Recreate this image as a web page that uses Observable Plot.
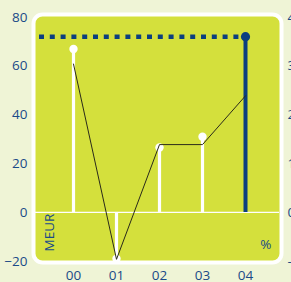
<!DOCTYPE html>
<html><head><meta charset="utf-8">
<script src="https://cdn.jsdelivr.net/npm/d3@7"></script>
<script src="https://cdn.jsdelivr.net/npm/@observablehq/plot@0.6"></script>
<style>
html,body{margin:0;padding:0;background:#eff4d6;}
svg{display:block;}
</style></head><body>
<div id="chart"></div>
<script>
const years = ["00", "01", "02", "03", "04"];
const meur = [67, -19, 26.6, 31, 72];          // lollipops (left axis, MEUR)
const pct = [30.4, -9.6, 13.9, 13.9, 23.9];     // line (right axis, %)
const leftTicks = [-20, 0, 20, 40, 60, 80];
const rightTicks = [-10, 0, 10, 20, 30, 40];
const target = 72;

const navy = "#0b3f7f";
const txt = "#1a4a88";
const panel = "#d4e03c";

const bars = years.map((y, i) => ({year: y, v: meur[i], last: i === years.length - 1}));
const line = years.map((y, i) => ({year: y, p: pct[i]}));

const chart = Plot.plot({
  width: 291,
  height: 282,
  marginLeft: 33,
  marginRight: 10,
  marginTop: 14,
  marginBottom: 20,
  style: {background: "#eff4d6", fontFamily: "'Open Sans', sans-serif", fontSize: "13px", color: txt},
  x: {type: "point", domain: years, padding: 0, insetLeft: 39, insetRight: 36, label: null},
  y: {domain: [-20.5, 81.1], label: null},
  marks: [
    Plot.frame({fill: panel, stroke: "white", strokeWidth: 4, rx: 9}),
    Plot.axisY({ticks: leftTicks, tickSize: 0, tickPadding: 6, fill: txt, fontSize: 13.5}),
    Plot.axisY({anchor: "right", ticks: rightTicks.map(d => d * 2), tickFormat: d => d / 2, tickSize: 0, tickPadding: 6, fill: txt, fontSize: 13.5, textAnchor: "start"}),
    Plot.axisX({tickSize: 0, tickPadding: 8, fill: txt, fontSize: 13.5}),
    Plot.ruleY([0], {stroke: "white", strokeWidth: 1.2, insetLeft: 2, insetRight: 2}),
    Plot.ruleY([target], {stroke: navy, strokeWidth: 4.5, strokeDasharray: "5 5.8", insetLeft: 6, insetRight: 38}),
    Plot.ruleX(bars.filter(d => !d.last), {x: "year", y1: 0, y2: "v", stroke: "white", strokeWidth: 3.2}),
    Plot.ruleX(bars.filter(d => d.last), {x: "year", y1: 0, y2: "v", stroke: navy, strokeWidth: 4}),
    Plot.dot(bars.filter(d => !d.last), {x: "year", y: "v", r: 4.2, fill: "white"}),
    Plot.dot(bars.filter(d => d.last), {x: "year", y: "v", r: 4.6, fill: navy}),
    Plot.line(line, {x: "year", y: d => d.p * 2, stroke: "#2a2a1a", strokeWidth: 1}),
    Plot.text(["MEUR"], {frameAnchor: "bottom-left", rotate: -90, dx: 20, dy: -11, fill: txt, fontSize: 13.5, textAnchor: "start"}),
    Plot.text(["%"], {frameAnchor: "bottom-right", dx: -10, dy: -14, fill: txt, fontSize: 13.5})
  ]
});
document.getElementById("chart").appendChild(chart);
</script>
</body></html>
